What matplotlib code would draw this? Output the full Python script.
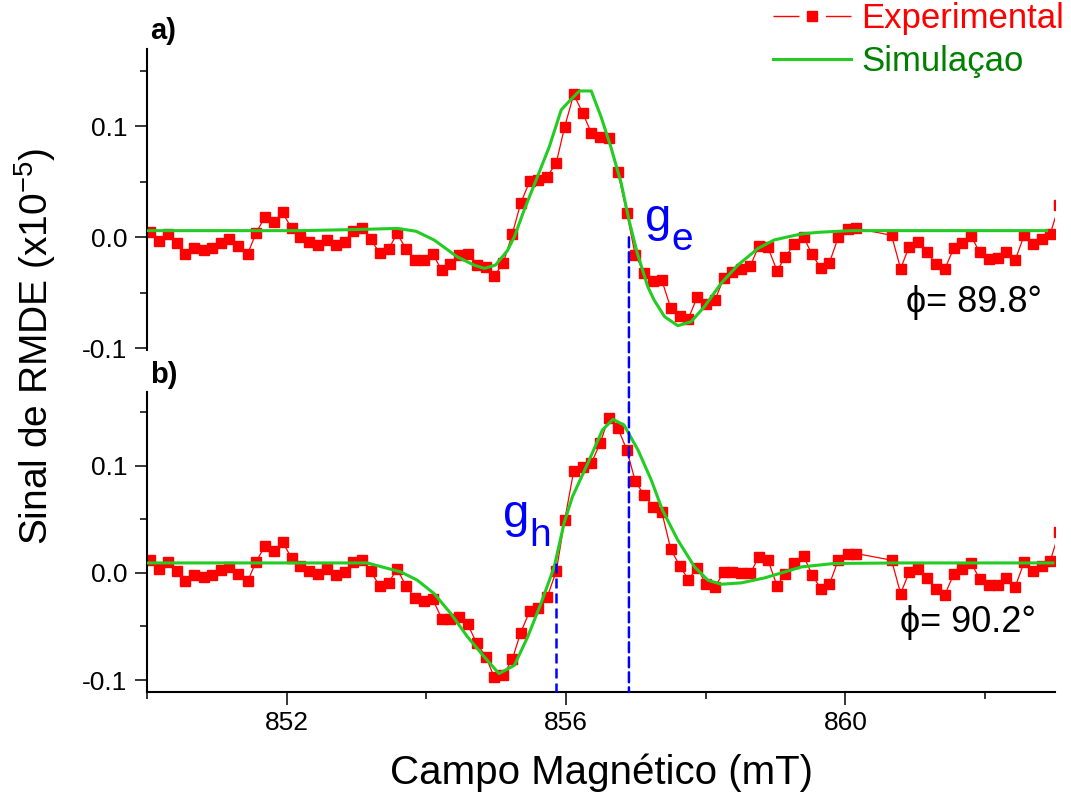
import matplotlib
matplotlib.use("Agg")
import matplotlib.pyplot as plt
from matplotlib.lines import Line2D
from matplotlib.patches import ConnectionPatch

plt.rcParams['font.family'] = ['Liberation Sans', 'DejaVu Sans']
plt.rcParams['axes.unicode_minus'] = False

# ==============================
# DATA
# ==============================
# magnetic field of the experimental points (mT), same grid for a) and b)
field = [850.05, 850.17, 850.30, 850.43, 850.55, 850.68, 850.81, 850.93, 851.06, 851.18,
         851.31, 851.44, 851.56, 851.69, 851.82, 851.94, 852.07, 852.19, 852.32, 852.45,
         852.57, 852.70, 852.83, 852.95, 853.08, 853.20, 853.33, 853.46, 853.58, 853.71,
         853.84, 853.96, 854.09, 854.22, 854.34, 854.47, 854.59, 854.72, 854.85, 854.97,
         855.10, 855.23, 855.35, 855.48, 855.60, 855.73, 855.86, 855.98, 856.11, 856.24,
         856.36, 856.49, 856.61, 856.74, 856.87, 856.99, 857.12, 857.25, 857.37, 857.50,
         857.63, 857.75, 857.88, 858.00, 858.13, 858.26, 858.38, 858.51, 858.64, 858.76,
         858.89, 859.02, 859.14, 859.27, 859.40, 859.52, 859.65, 859.77, 859.90, 860.03,
         860.15,
         860.66, 860.79, 860.91, 861.04, 861.17, 861.29, 861.42, 861.55, 861.67, 861.80,
         861.92, 862.05, 862.18, 862.30, 862.43, 862.56, 862.68, 862.81, 862.93, 863.06]

exp_a = [0.0045, -0.003, 0.003, -0.005, -0.015, -0.0096, -0.011, -0.0094, -0.0048, -0.0015,
         -0.0075, -0.015, 0.0036, 0.0186, 0.0138, 0.0225, 0.008, 0.0, -0.004, -0.007,
         -0.0024, -0.007, -0.004, 0.006, 0.0084, -0.0012, -0.0144, -0.0108, 0.0036, -0.0108,
         -0.0205, -0.0205, -0.015, -0.0295, -0.0237, -0.0162, -0.015, -0.0247, -0.0265, -0.0349,
         -0.0232, 0.003, 0.0306, 0.0507, 0.0516, 0.0546, 0.0672, 0.0996, 0.1288, 0.1117,
         0.0942, 0.0901, 0.0892, 0.0591, 0.0219, -0.0159, -0.0319, -0.0396, -0.0385, -0.064,
         -0.0709, -0.0733, -0.0535, -0.0604, -0.0565, -0.0367, -0.0313, -0.0283, -0.0256, -0.0075,
         -0.009, -0.0301, -0.0175, -0.006, 0.0005, -0.0153, -0.028, -0.0229, 0.0005, 0.0072,
         0.0081,
         0.0018, -0.0283, -0.0085, -0.0045, -0.0135, -0.0238, -0.0288, -0.0099, -0.0049, 0.0012,
         -0.0135, -0.0195, -0.0189, -0.013, -0.0205, 0.0021, -0.006, -0.0015, 0.0027, 0.029]

exp_b = [0.0119, 0.0041, 0.0103, 0.0019, -0.0075, -0.0021, -0.0037, -0.0015, 0.0025, 0.0056,
         -0.0006, -0.008, 0.0103, 0.0252, 0.0203, 0.0287, 0.014, 0.0063, 0.0019, -0.0012,
         0.0035, -0.0019, 0.0007, 0.0103, 0.0125, 0.0016, -0.0121, -0.009, 0.0037, -0.0124,
         -0.0239, -0.0264, -0.0246, -0.0426, -0.0426, -0.0414, -0.0477, -0.0657, -0.0781, -0.0972,
         -0.0956, -0.0807, -0.0557, -0.0358, -0.0327, -0.0224, 0.0016, 0.0493, 0.0953, 0.0985,
         0.1022, 0.1215, 0.1449, 0.1355, 0.1147, 0.0857, 0.0723, 0.0617, 0.057, 0.0219,
         0.0063, -0.0062, 0.005, -0.0106, -0.0131, 0.0009, 0.0009, 0.0, 0.0, 0.015,
         0.0119, -0.0118, -0.0006, 0.0093, 0.0159, -0.0015, -0.0152, -0.0106, 0.0125, 0.0178,
         0.0181,
         0.0119, -0.0193, 0.0004, 0.0041, -0.0052, -0.0152, -0.0208, -0.0012, 0.0037, 0.0093,
         -0.0056, -0.0115, -0.0115, -0.0047, -0.0131, 0.0103, 0.0019, 0.0063, 0.0109, 0.038]

# simulated spectra
sim_a_x = [850.0, 852.2, 853.0, 853.58, 853.85, 854.11, 854.44, 854.68, 854.83, 854.99,
           855.16, 855.26, 855.40, 855.59, 855.76, 855.93, 856.04, 856.19, 856.36, 856.50,
           856.64, 856.79, 856.90, 857.02, 857.17, 857.26, 857.41, 857.60, 857.79, 857.98,
           858.22, 858.46, 858.75, 858.98, 859.18, 859.37, 859.61, 860.08, 862.88]
sim_a_y = [0.006, 0.006, 0.007, 0.008, 0.0055, -0.0024, -0.0175, -0.025, -0.028, -0.025,
           -0.012, 0.0005, 0.0246, 0.0546, 0.0816, 0.1147, 0.1222, 0.1318, 0.1318, 0.1087,
           0.0816, 0.0486, 0.0156, -0.0144, -0.0445, -0.0565, -0.0715, -0.0796, -0.076, -0.0625,
           -0.0414, -0.025, -0.0099, -0.0024, 0.0005, 0.003, 0.0045, 0.006, 0.006]

sim_b_x = [850.0, 853.15, 853.63, 853.87, 854.11, 854.35, 854.59, 854.83, 855.04, 855.26,
           855.45, 855.64, 855.83, 855.97, 856.09, 856.31, 856.52, 856.67, 856.83, 857.03,
           857.22, 857.38, 857.60, 857.84, 858.03, 858.22, 858.51, 858.84, 859.13, 859.37,
           859.84, 860.80, 862.97]
sim_b_y = [0.0093, 0.0093, 0.001, -0.0068, -0.0193, -0.038, -0.0598, -0.0785, -0.094, -0.0863,
           -0.0598, -0.0286, 0.0056, 0.0462, 0.071, 0.1022, 0.1334, 0.1434, 0.138, 0.1147,
           0.0866, 0.0586, 0.0306, 0.0056, -0.0068, -0.0106, -0.0093, -0.0047, 0.0009, 0.0056,
           0.0088, 0.0093, 0.0093]

g_e_field = 856.90
g_h_field = 855.85
phi_labels = ['\u03d5= 89.8°', '\u03d5= 90.2°']

# ==============================
# FIGURE
# ==============================
W, H = 1071, 801


def fx(x):
    return x / W


def fy(y):
    return 1 - y / H


RED = '#ff0000'
GREEN = '#22cc22'
BLUE = '#0000ff'

fig = plt.figure(figsize=(W / 100, H / 100), dpi=100)
ax1 = fig.add_axes([fx(147), fy(350), (1055 - 147) / W, 301 / H])
ax2 = fig.add_axes([fx(147), fy(692), (1055 - 147) / W, 300 / H])

for ax, ey, sx, sy in [(ax1, exp_a, sim_a_x, sim_a_y), (ax2, exp_b, sim_b_x, sim_b_y)]:
    ax.plot(field, ey, color=RED, lw=0.9, marker='s', ms=6.5, mec=RED, mfc=RED, zorder=2)
    ax.plot(sx, sy, color=GREEN, lw=2.2, zorder=3)
    ax.set_xlim(850, 863)
    ax.set_yticks([-0.1, 0.0, 0.1])
    ax.set_yticklabels(['-0.1', '0.0', '0.1'])
    ax.set_yticks([-0.05, 0.05, 0.15], minor=True)
    for s in ['top', 'right']:
        ax.spines[s].set_visible(False)
    ax.spines['left'].set_linewidth(1.5)
    ax.spines['bottom'].set_linewidth(1.5)
    ax.tick_params(which='major', direction='out', length=9, width=1.1, labelsize=19, pad=5)
    ax.tick_params(which='minor', direction='out', length=5, width=1.1)

ax1.set_ylim(-0.1015, 0.1696)
ax2.set_ylim(-0.1112, 0.1689)

ax1.spines['bottom'].set_visible(False)
ax1.tick_params(axis='x', which='both', bottom=False, labelbottom=False)

ax2.set_xticks([852, 856, 860])
ax2.set_xticks([850, 854, 858, 862], minor=True)
ax2.set_xlabel('Campo Magnético (mT)', fontsize=29, labelpad=13)

fig.text(fx(35), fy(346), 'Sinal de RMDE (x10$^{\\mathregular{-5}}$)', rotation=90,
         ha='center', va='center', fontsize=28)

# dashed marks for g_e and g_h
con_e = ConnectionPatch(xyA=(g_e_field, 0.0), coordsA='data', axesA=ax1,
                        xyB=(g_e_field, -0.1112), coordsB='data', axesB=ax2,
                        color=BLUE, lw=1.8, linestyle=(0, (4, 2)), zorder=5)
fig.add_artist(con_e)
ax2.plot([g_h_field, g_h_field], [0.0093, -0.1112], color=BLUE, lw=1.8,
         linestyle=(0, (4, 2)), clip_on=False, zorder=5)

# labels
fig.text(fx(150), fy(39), 'a)', fontsize=21, fontweight='bold', ha='left', va='baseline')
fig.text(fx(150), fy(383), 'b)', fontsize=21, fontweight='bold', ha='left', va='baseline')

fig.text(fx(645), fy(231), 'g', fontsize=34, color=BLUE, ha='left', va='baseline')
fig.text(fx(671), fy(250), 'e', fontsize=28, color=BLUE, ha='left', va='baseline')
fig.text(fx(503), fy(527), 'g', fontsize=34, color=BLUE, ha='left', va='baseline')
fig.text(fx(529), fy(546), 'h', fontsize=28, color=BLUE, ha='left', va='baseline')

fig.text(fx(906), fy(312), phi_labels[0], fontsize=26, ha='left', va='baseline')
fig.text(fx(900), fy(632), phi_labels[1], fontsize=26, ha='left', va='baseline')

# legend
h_exp = Line2D([], [], color=RED, lw=1.0, linestyle=(0, (18.7, 19.0)),
               marker='s', ms=6.5, mec=RED, mfc=RED)
h_sim = Line2D([], [], color=GREEN, lw=2.2)
leg = ax1.legend(handles=[h_exp, h_sim], labels=['Experimental', 'Simulaçao'],
                 loc='upper right', bbox_to_anchor=(fx(1064), fy(2)),
                 bbox_transform=fig.transFigure, frameon=False, fontsize=25,
                 borderpad=0, borderaxespad=0, handlelength=2.25, handletextpad=0.3,
                 labelspacing=0.3, numpoints=1)
for t, c in zip(leg.get_texts(), [RED, '#008000']):
    t.set_color(c)

fig.savefig('out.png', dpi=100)
